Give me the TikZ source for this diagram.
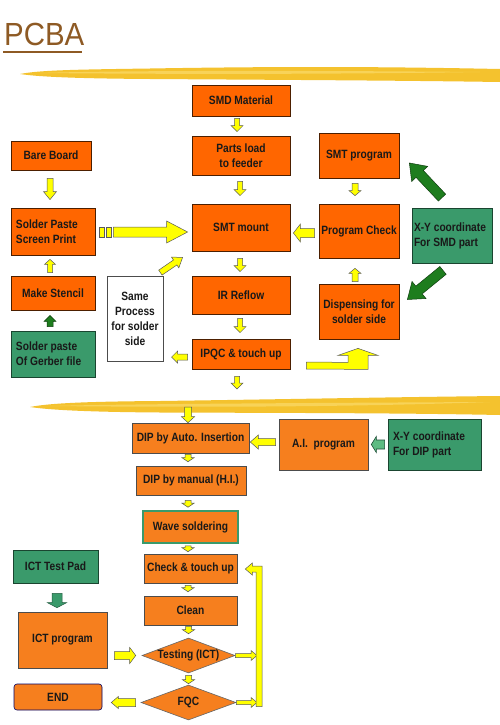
\documentclass[tikz,border=0pt]{standalone}
\usepackage{fontspec}
\setmainfont{Liberation Sans}[FakeStretch=0.85]
\newfontfamily\titlefont{Liberation Sans}[FakeStretch=0.92]
\usetikzlibrary{calc,shapes.geometric}
\definecolor{orA}{HTML}{FF6600}
\definecolor{orB}{HTML}{F67F1E}
\definecolor{grA}{HTML}{3A9A6B}
\definecolor{grL}{HTML}{5DBB82}
\definecolor{grD}{HTML}{1E7D1E}
\definecolor{yel}{HTML}{FFFF00}
\definecolor{brush}{HTML}{F4C22E}
\definecolor{brushL}{HTML}{FADB6A}
\definecolor{ttl}{HTML}{8E5A24}
% block arrow: [style]{start}{end}{shaft half width}{head half width}{head length}
\newcommand\blk[6][]{%
  \coordinate (bs) at (#2);
  \coordinate (be) at (#3);
  \coordinate (bb) at ($(be)!#6!(bs)$);
  \filldraw[#1] ($(bs)!#4!90:(be)$) -- ($(bb)!#4!90:(be)$) -- ($(bb)!#5!90:(be)$) -- (be)
    -- ($(bb)!#5!-90:(be)$) -- ($(bb)!#4!-90:(be)$) -- ($(bs)!#4!-90:(be)$) -- cycle;}
\begin{document}
\begin{tikzpicture}[x=1pt,y=-1pt,
  base/.style={font=\fontsize{12}{15}\selectfont\bfseries, inner sep=0pt, align=center, text=black!90},
  sz/.style 2 args={minimum width=#1pt, minimum height=#2pt},
  la/.style={align=flush left, text width=#1pt, execute at begin node={\hyphenpenalty=10000\exhyphenpenalty=10000}},
  obox/.style={base, rectangle, fill=orA, draw=black!70!orA, line width=0.8pt},
  lbox/.style={base, rectangle, fill=orB, draw=black!70, line width=0.6pt},
  gbox/.style={base, rectangle, fill=grA, draw=black!55!grA, line width=0.8pt},
  wbox/.style={base, rectangle, fill=white, draw=black!70, line width=0.8pt},
  dbox/.style={base, diamond, fill=orB, draw=black!60, line width=0.6pt, shape aspect=2.7},
  ya/.style={fill=yel, draw=black!65, line width=0.5pt},
  ga/.style={fill=grD, draw=black!50!grD, line width=0.5pt},
  gl/.style={fill=grL, draw=black!50!grA, line width=0.6pt},
  gm/.style={fill=grA, draw=black!40!grA, line width=0.5pt}]
\useasboundingbox (0,0) rectangle (500,725);
\fill[white] (0,0) rectangle (500,725);

% title
\node[anchor=base west, inner sep=0pt, font=\titlefont\fontsize{32}{32}\selectfont, text=ttl] (title) at (4,46) {PCBA};
\draw[ttl, line width=1.6pt] ($(title.base west)+(-1,6)$) -- ($(title.base east)+(-3,6)$);

% brush strokes
\fill[brush] (20,74) .. controls (40,70) and (80,69.5) .. (150,68.5) .. controls (300,66) and (400,67) .. (500,69)
  -- (500,82) .. controls (400,80.5) and (300,80) .. (150,79) .. controls (80,78.5) and (40,77) .. (20,74) -- cycle;
\fill[brushL, opacity=0.7] (40,73) .. controls (100,71) and (250,70) .. (480,72) .. controls (350,74) and (200,74.5) .. (40,73) -- cycle;
\fill[brush] (30,407) .. controls (50,403) and (90,401.5) .. (160,401) .. controls (300,399) and (400,397) .. (500,396)
  -- (500,415) .. controls (400,413) and (300,413) .. (160,412.5) .. controls (90,412) and (50,410) .. (30,407) -- cycle;
\fill[brushL, opacity=0.7] (50,406) .. controls (120,404) and (300,403) .. (490,402) .. controls (350,407) and (200,407.5) .. (50,406) -- cycle;

% upper section
\node[obox, sz={98}{31}] (smd) at (241,100.5) {SMD Material};
\node[obox, sz={98}{39}] (parts) at (241,155.5) {Parts load\\to feeder};
\node[obox, sz={98}{47}] (mount) at (241,227.5) {SMT mount};
\node[obox, sz={98}{38}] (reflow) at (241,295) {IR Reflow};
\node[obox, sz={98}{30}] (ipqc) at (241,354) {IPQC \& touch up};
\node[obox, sz={80}{29}] (bare) at (51,155.5) {Bare Board};
\node[obox, sz={84}{47}, la=74] (paste) at (53,231.5) {Solder Paste\\Screen Print};
\node[obox, sz={84}{34}] (stencil) at (53,293) {Make Stencil};
\node[gbox, sz={84}{46}, la=74] (gerber) at (53,354) {Solder paste\\Of Gerber file};
\node[wbox, sz={56}{85}] (same) at (135,318.5) {Same\\Process\\for solder\\side};
\node[obox, sz={80}{45}] (smtprog) at (359,155.5) {SMT program};
\node[obox, sz={80}{54}] (pcheck) at (359,231) {Program Check};
\node[obox, sz={80}{55}] (disp) at (359,311.5) {Dispensing for\\solder side};
\node[gbox, sz={80}{55}, la=76] (xysmd) at (452,235.5) {X-Y coordinate\\For SMD part};

% lower section
\node[lbox, sz={117}{30}] (dipauto) at (190.5,438) {DIP by Auto. Insertion};
\node[lbox, sz={110}{29}] (dipman) at (191,480.5) {DIP by manual (H.I.)};
\node[lbox, sz={95}{32}, draw=grA, line width=1.6pt] (wave) at (190.5,527) {Wave soldering};
\node[lbox, sz={89}{51}] (aiprog) at (323.5,444.5) {A.I.\ \ program};
\node[gbox, sz={93}{51}, la=83] (xydip) at (434.5,444.5) {X-Y coordinate\\For DIP part};
\node[gbox, sz={85}{33}] (icttp) at (55.5,566.5) {ICT Test Pad};
\node[lbox, sz={89}{56}] (ictprog) at (62.5,640) {ICT program};
\node[lbox, sz={93}{29}] (check) at (190.5,568.5) {Check \& touch up};
\node[lbox, sz={93}{29}] (clean) at (190.5,610.5) {Clean};
\node[dbox, minimum width=93pt, minimum height=35pt] (testing) at (188.5,655.5) {Testing (ICT)};
\node[dbox, minimum width=95pt, minimum height=35pt] (fqc) at (188.5,702.5) {FQC};
\node[lbox, sz={88}{26}, rounded corners=3pt, draw=black!60!blue] (endn) at (58,697) {END};

% named free ends
\coordinate (c1) at (237,389);
\coordinate (c2) at (188,407);
\coordinate (barx) at (257,0);

% upper arrows
\blk[ya]{$(smd.south)+(-4,2)$}{$(parts.north)+(-4,-4)$}{2.5pt}{6pt}{6pt}
\blk[ya]{$(parts.south)+(-1,6)$}{$(mount.north)+(-1,-8)$}{2.5pt}{6pt}{6pt}
\blk[ya]{$(mount.south)+(-1,7)$}{$(reflow.north)+(-1,-4)$}{2.5pt}{6pt}{6pt}
\blk[ya]{$(reflow.south)+(-1,4)$}{$(ipqc.north)+(-1,-6)$}{2.5pt}{6pt}{6pt}
\blk[ya]{$(ipqc.south)+(-4,7)$}{c1}{2.5pt}{6pt}{6pt}
\blk[ya]{$(bare.south)+(-1,8)$}{$(paste.north)+(-3,-8)$}{3pt}{6.5pt}{8pt}
\blk[ya]{$(stencil.north)+(-3,-3)$}{$(paste.south)+(-3,4)$}{2.5pt}{5.5pt}{5pt}
\blk[ga]{$(gerber.north)+(-3,-4)$}{$(stencil.south)+(-3,5)$}{3pt}{6pt}{6pt}
% big arrow solder paste -> SMT mount
\filldraw[ya] ($(paste.east)+(4,-4.5)$) rectangle ($(paste.east)+(9,5.5)$);
\filldraw[ya] ($(paste.east)+(11,-4.5)$) rectangle ($(paste.east)+(16,5.5)$);
\blk[ya]{$(paste.east)+(18,0.5)$}{$(paste.east -| mount.west)+(-4,0.5)$}{5pt}{11pt}{21pt}
\blk[ya]{$(same.north east)+(-3,-3)$}{$(mount.south west)+(-9,6)$}{3pt}{6.5pt}{9pt}
\blk[ya]{$(ipqc.west)+(-4,3)$}{$(ipqc.west)+(-20,3)$}{3pt}{6pt}{6pt}
\blk[ya]{$(pcheck.west)+(-4,2)$}{$(mount.east)+(3,5.5)$}{4.5pt}{9pt}{7pt}
\blk[ya]{$(smtprog.south)+(-4,5)$}{$(pcheck.north)+(-4,-8)$}{3pt}{6pt}{5pt}
\blk[ya]{$(disp.north)+(-4,-2)$}{$(pcheck.south)+(-4,10)$}{3pt}{6pt}{5pt}
\blk[ga]{$(xysmd.north)+(-10,-10)$}{$(smtprog.east)+(10,7.5)$}{5pt}{11pt}{15pt}
\blk[ga]{$(xysmd.south)+(-9,7)$}{$(disp.east)+(8,-12)$}{5pt}{11pt}{15pt}
% bent arrow IPQC -> dispensing
\filldraw[ya] ($(ipqc.east)+(16,8)$) -- ($(ipqc.east)+(16,15)$) -- ($(disp.south)+(9,30)$) -- ($(disp.south)+(9,16)$)
  -- ($(disp.south)+(19,16)$) -- ($(disp.south)+(-1,9)$) -- ($(disp.south)+(-21,16)$) -- ($(disp.south)+(-11,16)$)
  -- ($(disp.south)+(-11,23)$) -- cycle;

% lower arrows
\blk[ya]{c2}{$(dipauto.north)+(-2.5,0)$}{3.5pt}{6.5pt}{6pt}
\blk[ya]{$(dipauto.south)+(-2.5,1)$}{$(dipman.north)+(-3,-4)$}{3pt}{6pt}{4pt}
\blk[ya]{$(dipman.south)+(-3,5)$}{$(wave.north)+(-2.5,-3)$}{3pt}{6pt}{4pt}
\blk[ya]{$(wave.south)+(-2.5,2)$}{$(check.north)+(-2.5,-2)$}{3pt}{6pt}{4pt}
\blk[ya]{$(check.south)+(-2.5,2)$}{$(clean.north)+(-2.5,-4)$}{3pt}{6pt}{4pt}
\blk[ya]{$(clean.south)+(-2,1)$}{$(testing.north)+(0,-4)$}{3pt}{6pt}{4pt}
\blk[ya]{$(testing.south)+(0,2)$}{$(fqc.north)+(0,-1)$}{3pt}{6pt}{4pt}
\blk[ya]{$(aiprog.west)+(-3,-2.5)$}{$(dipauto.east)+(1,4)$}{3.5pt}{7pt}{8pt}
\blk[gl]{$(xydip.west)+(-3,0)$}{$(aiprog.east)+(3,0)$}{4.5pt}{8pt}{5pt}
\blk[gm]{$(icttp.south)+(1.5,10)$}{$(ictprog.north)+(-5.5,-4)$}{5pt}{9.5pt}{5pt}
\blk[ya]{$(ictprog.east)+(7,15.5)$}{$(testing.west)+(-6,0)$}{4pt}{8pt}{6pt}
\blk[ya]{$(fqc.west)+(-5,0)$}{$(endn.east)+(9,5.5)$}{4pt}{6pt}{7pt}
\blk[ya]{testing.east}{testing.east -| barx}{2pt}{5pt}{6pt}
\blk[ya]{fqc.east}{fqc.east -| barx}{2pt}{5pt}{6pt}
% return loop to Check & touch up
\filldraw[ya] ($(fqc.east -| barx)+(-1,4)$) -- ($(fqc.east -| barx)+(5,4)$) -- ($(check.east -| barx)+(5,-2.5)$)
  -- ($(check.east)+(15,-2.5)$) -- ($(check.east)+(15,-5.5)$) -- ($(check.east)+(8,0.5)$)
  -- ($(check.east)+(15,6.5)$) -- ($(check.east)+(15,3.5)$) -- ($(check.east -| barx)+(-1,3.5)$) -- cycle;
\end{tikzpicture}
\end{document}
